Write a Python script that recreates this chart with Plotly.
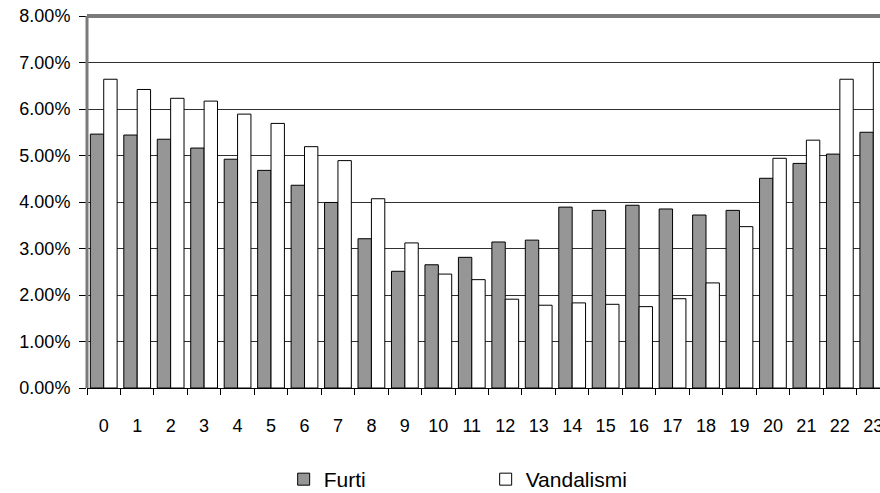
import plotly.graph_objects as go

hours = [str(h) for h in range(24)]
furti = [5.46, 5.44, 5.35, 5.16, 4.92, 4.68, 4.36, 3.99, 3.21, 2.51, 2.65, 2.81,
         3.14, 3.18, 3.89, 3.82, 3.93, 3.85, 3.72, 3.82, 4.51, 4.83, 5.03, 5.50]
vandalismi = [6.64, 6.42, 6.23, 6.17, 5.89, 5.69, 5.19, 4.89, 4.07, 3.12, 2.45, 2.33,
              1.91, 1.78, 1.83, 1.80, 1.75, 1.92, 2.26, 3.47, 4.94, 5.33, 6.64, 7.00]
y_ticks = [0, 1, 2, 3, 4, 5, 6, 7, 8]
y_tick_labels = ["0.00%", "1.00%", "2.00%", "3.00%", "4.00%", "5.00%", "6.00%", "7.00%", "8.00%"]

FONT = "Arial, Liberation Sans, sans-serif"

fig = go.Figure()
fig.add_trace(go.Bar(x=hours, y=furti, name="Furti",
                     marker=dict(color="#969696", line=dict(color="black", width=1))))
fig.add_trace(go.Bar(x=hours, y=vandalismi, name="Vandalismi",
                     marker=dict(color="white", line=dict(color="black", width=1))))

fig.update_layout(
    width=880, height=493,
    margin=dict(l=87, r=0, t=16, b=105, autoexpand=False),
    paper_bgcolor="white", plot_bgcolor="white",
    font=dict(family=FONT, size=18, color="black"),
    barmode="group", bargap=0.2, bargroupgap=0,
    showlegend=True,
    legend=dict(orientation="h", x=0.248, xanchor="left", y=-0.246, yanchor="middle",
                entrywidth=157, entrywidthmode="pixels",
                font=dict(family=FONT, size=21, color="black"),
                bgcolor="rgba(0,0,0,0)", borderwidth=0),
)

fig.update_xaxes(
    type="category", range=[-0.5, 23.2], automargin=False,
    showgrid=False, ticks="outside", tickson="boundaries", ticklen=6,
    tickcolor="black", tickwidth=1,
    showline=True, linecolor="black", linewidth=1,
    ticklabelstandoff=21,
    tickfont=dict(family=FONT, size=18, color="black"),
)
fig.update_yaxes(
    range=[0, 8], tickvals=y_ticks, ticktext=y_tick_labels, automargin=False,
    showgrid=True, gridcolor="#303030", gridwidth=1,
    zeroline=False,
    ticks="outside", ticklen=7, tickcolor="black", tickwidth=1,
    showline=False,
    ticklabelstandoff=5,
    tickfont=dict(family=FONT, size=18, color="black"),
)

# frame: thick grey top and left border
fig.add_shape(type="line", xref="paper", yref="paper", x0=0, x1=1, y0=1, y1=1,
              line=dict(color="#7a7a7a", width=4), layer="above")
fig.add_shape(type="line", xref="paper", yref="paper", x0=0, x1=0, y0=0, y1=1,
              line=dict(color="#7a7a7a", width=3), layer="above")

fig.write_html("out.html")
